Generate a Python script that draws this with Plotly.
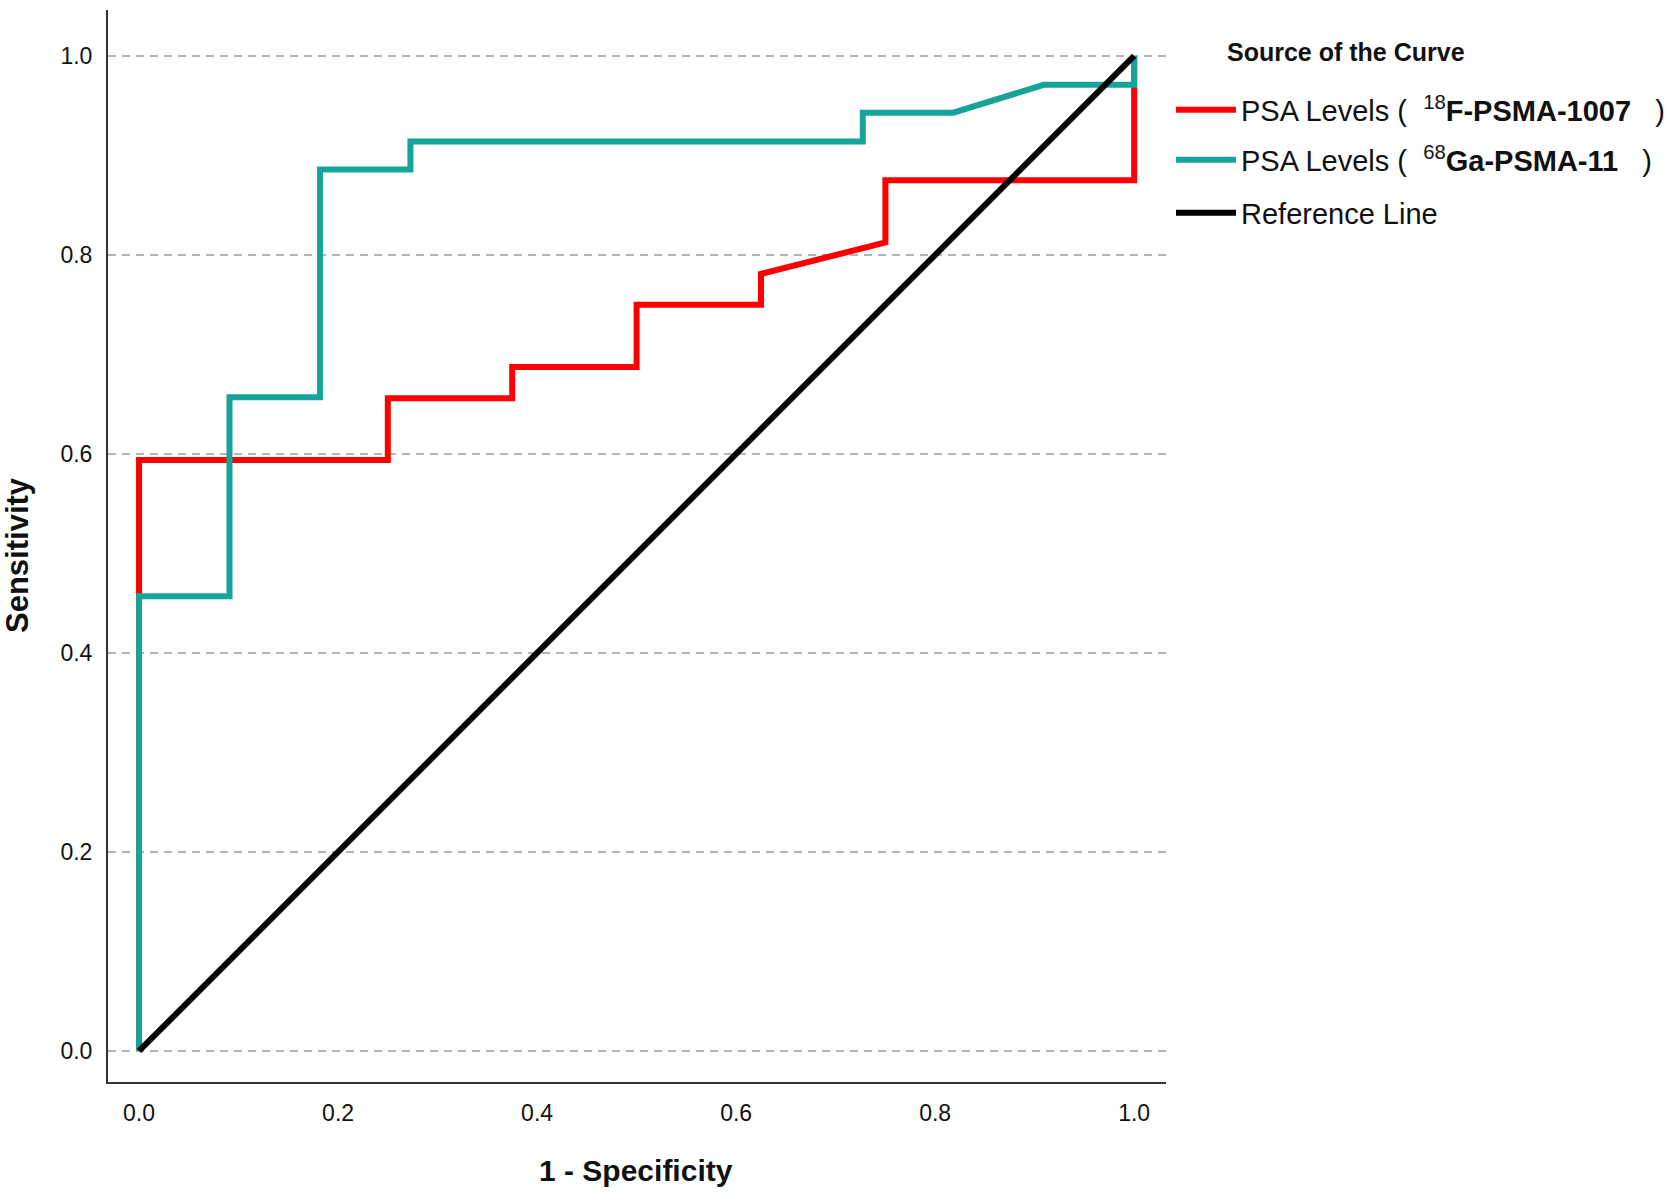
import plotly.graph_objects as go

# ---- data ----
f18_x = [0.0, 0.0, 0.25, 0.25, 0.375, 0.375, 0.5, 0.5, 0.625, 0.625, 0.75, 0.75, 1.0, 1.0]
f18_y = [0.0, 0.594, 0.594, 0.656, 0.656, 0.6875, 0.6875, 0.75, 0.75, 0.781, 0.8125, 0.875, 0.875, 1.0]

ga68_x = [0.0, 0.0, 0.0909, 0.0909, 0.1818, 0.1818, 0.2727, 0.2727, 0.7273, 0.7273, 0.8182, 0.9091, 1.0, 1.0]
ga68_y = [0.0, 0.457, 0.457, 0.657, 0.657, 0.886, 0.886, 0.914, 0.914, 0.943, 0.943, 0.971, 0.971, 1.0]

ref_x = [0.0, 1.0]
ref_y = [0.0, 1.0]

tick_vals = [0.0, 0.2, 0.4, 0.6, 0.8, 1.0]
tick_text = ["0.0", "0.2", "0.4", "0.6", "0.8", "1.0"]

names = [
    "PSA Levels (\u00a0 <sup>18</sup><b>F-PSMA-1007</b>\u00a0\u00a0 )",
    "PSA Levels (\u00a0 <sup>68</sup><b>Ga-PSMA-11</b>\u00a0\u00a0 )",
    "Reference Line",
]
colors = ["#ff0000", "#16a39a", "#000000"]

FONT = "Liberation Sans, Arial, sans-serif"

W, H = 1675, 1192
L, R, T, B = 108, 509, 10, 110
pw, ph = W - L - R, H - T - B


def px_x(p):
    return (p - L) / pw


def px_y(p):
    return (H - B - p) / ph


fig = go.Figure()
series = [(f18_x, f18_y), (ga68_x, ga68_y), (ref_x, ref_y)]
legends = ["legend", "legend2", "legend3"]
for (xs, ys), nm, c, lg in zip(series, names, colors, legends):
    fig.add_trace(go.Scatter(
        x=xs, y=ys, mode="lines", name=nm,
        line=dict(color=c, width=6),
        legend=lg, hoverinfo="skip",
    ))

leg_common = dict(
    xanchor="left", yanchor="middle", xref="container", yref="container",
    font=dict(family=FONT, size=29, color="#111"),
    bgcolor="rgba(0,0,0,0)", itemwidth=60, borderwidth=0,
)
legend_y_px = [110, 160, 213]
leg_x = 1171 / W

fig.update_layout(
    width=W, height=H,
    margin=dict(l=L, r=R, t=T, b=B, autoexpand=False),
    paper_bgcolor="white", plot_bgcolor="white",
    showlegend=True,
    legend=dict(x=leg_x, y=1 - legend_y_px[0] / H, **leg_common),
    legend2=dict(x=leg_x, y=1 - legend_y_px[1] / H, **leg_common),
    legend3=dict(x=leg_x, y=1 - legend_y_px[2] / H, **leg_common),
    xaxis=dict(
        range=[-0.0312, 1.032], showgrid=False, zeroline=False,
        showline=True, linecolor="#333", linewidth=2,
        tickvals=tick_vals, ticktext=tick_text, ticks="",
        ticklabelstandoff=9,
        tickfont=dict(family=FONT, size=23, color="#111"),
        fixedrange=True,
    ),
    yaxis=dict(
        range=[-0.0312, 1.0462], showgrid=True, gridcolor="#b4b4b4",
        gridwidth=2, griddash="8px,6px", zeroline=False,
        showline=True, linecolor="#333", linewidth=2,
        tickvals=tick_vals, ticktext=tick_text, ticks="",
        ticklabelstandoff=9,
        tickfont=dict(family=FONT, size=23, color="#111"),
        fixedrange=True,
    ),
    annotations=[
        dict(text="<b>Source of the Curve</b>", xref="paper", yref="paper",
             x=px_x(1225), y=px_y(52), xanchor="left", yanchor="middle",
             showarrow=False, font=dict(family=FONT, size=25, color="#111")),
        dict(text="<b>1 - Specificity</b>", xref="paper", yref="paper",
             x=px_x(636), y=px_y(1170), xanchor="center", yanchor="middle",
             showarrow=False, font=dict(family=FONT, size=30, color="#111")),
        dict(text="<b>Sensitivity</b>", xref="paper", yref="paper",
             x=px_x(18), y=px_y(555), xanchor="center", yanchor="middle",
             textangle=-90,
             showarrow=False, font=dict(family=FONT, size=31, color="#111")),
    ],
)

fig.write_html("out.html", config={"displayModeBar": False},
               post_script="document.body.style.margin='0';")
